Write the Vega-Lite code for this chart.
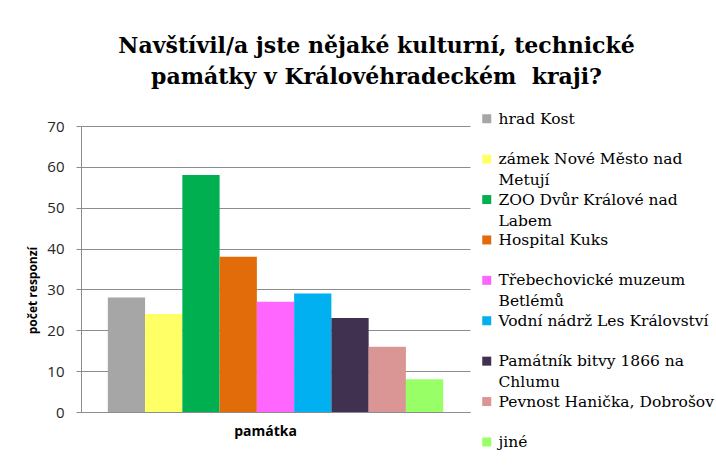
{
  "$schema": "https://vega.github.io/schema/vega-lite/v6.json",
  "width": 389,
  "height": 286,
  "autosize": {"type": "none"},
  "padding": {"left": 81, "top": 126, "right": 246, "bottom": 53},
  "background": "white",
  "title": {
    "text": ["Navštívil/a jste nějaké kulturní, technické", "památky v Královéhradeckém\u00a0 kraji?"],
    "font": "DejaVu Serif",
    "fontSize": 22,
    "fontWeight": "bold",
    "color": "#000000",
    "lineHeight": 31,
    "anchor": "middle",
    "frame": "group",
    "dx": 101,
    "offset": 22
  },
  "data": {
    "values": [
      {"pamatka": "hrad Kost", "pocet": 28},
      {"pamatka": "zámek Nové Město nad Metují", "pocet": 24},
      {"pamatka": "ZOO Dvůr Králové nad Labem", "pocet": 58},
      {"pamatka": "Hospital Kuks", "pocet": 38},
      {"pamatka": "Třebechovické muzeum Betlémů", "pocet": 27},
      {"pamatka": "Vodní nádrž Les Království", "pocet": 29},
      {"pamatka": "Památník bitvy 1866 na Chlumu", "pocet": 23},
      {"pamatka": "Pevnost Hanička, Dobrošov", "pocet": 16},
      {"pamatka": "jiné", "pocet": 8}
    ]
  },
  "mark": {"type": "bar"},
  "encoding": {
    "x": {
      "field": "pamatka",
      "type": "nominal",
      "sort": null,
      "scale": {"paddingInner": 0, "paddingOuter": 0.72},
      "axis": {
        "title": "památka",
        "labels": false,
        "ticks": false,
        "domain": true,
        "domainColor": "#8c8c8c",
        "titleFont": "Open Sans",
        "titleFontSize": 14,
        "titleFontWeight": "bold",
        "titleColor": "#000000",
        "titleX": 184,
        "titleY": 23,
        "titleBaseline": "alphabetic"
      }
    },
    "y": {
      "field": "pocet",
      "type": "quantitative",
      "scale": {"domain": [0, 70], "nice": false},
      "axis": {
        "title": "počet responzí",
        "values": [0, 10, 20, 30, 40, 50, 60, 70],
        "grid": true,
        "gridColor": "#8c8c8c",
        "domainColor": "#8c8c8c",
        "tickColor": "#8c8c8c",
        "tickSize": 5,
        "labelPadding": 12,
        "labelFont": "Open Sans",
        "labelFontSize": 15,
        "labelColor": "#262626",
        "titleFont": "Open Sans",
        "titleFontSize": 12,
        "titleFontWeight": "bold",
        "titleColor": "#000000",
        "titleX": -49,
        "titleY": 164,
        "titleAngle": -90,
        "titleBaseline": "middle",
        "titleAlign": "center"
      }
    },
    "color": {
      "field": "pamatka",
      "type": "nominal",
      "sort": null,
      "scale": {
        "domain": ["hrad Kost", "zámek Nové Město nad Metují", "ZOO Dvůr Králové nad Labem", "Hospital Kuks", "Třebechovické muzeum Betlémů", "Vodní nádrž Les Království", "Památník bitvy 1866 na Chlumu", "Pevnost Hanička, Dobrošov", "jiné"],
        "range": ["#A6A6A6", "#FFFF66", "#00B050", "#E36C0A", "#FF66FF", "#00B0F0", "#403151", "#D99694", "#99FF66"]
      },
      "legend": {
        "title": null,
        "orient": "none",
        "legendX": 398,
        "legendY": -15,
        "padding": 0,
        "rowPadding": 2.4,
        "symbolType": "square",
        "symbolSize": 81,
        "symbolStrokeWidth": 0,
        "symbolOffset": 0,
        "labelOffset": 4,
        "labelFont": "DejaVu Serif",
        "labelFontSize": 15.5,
        "labelColor": "#000000",
        "labelLimit": 300,
        "labelExpr": "indexof(['zámek Nové Město nad Metují', 'ZOO Dvůr Králové nad Labem', 'Třebechovické muzeum Betlémů', 'Památník bitvy 1866 na Chlumu'], datum.label) >= 0 ? [substring(datum.label, 0, lastindexof(datum.label, ' ')), substring(datum.label, lastindexof(datum.label, ' ') + 1)] : [datum.label, ' ']",
        "encode": {
          "labels": {"update": {"lineHeight": {"value": 21}}}
        }
      }
    }
  },
  "config": {
    "view": {"stroke": null}
  }
}
